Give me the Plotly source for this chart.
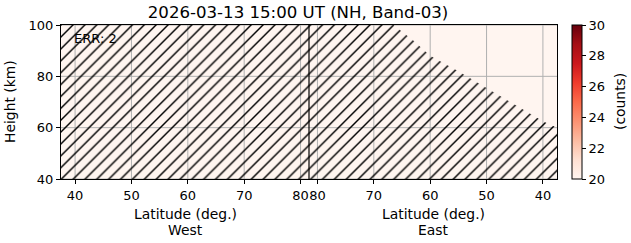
import plotly.graph_objects as go

# ---------------- data ----------------
title_text = "2026-03-13 15:00 UT (NH, Band-03)"
err_count = 2

lat_min = 37.5          # outer edge of both panels (deg)
lat_max = 81.5          # inner edge (where the two panels meet)
height_range = [40, 100]

lat_ticks = [40, 50, 60, 70, 80]
height_ticks = [40, 60, 80, 100]
cbar_ticks = [20, 22, 24, 26, 28, 30]
cmin, cmax = 20, 30

# heatmap grid (all read as the lowest colour level)
grid_lats = [37.5, 42.5, 47.5, 52.5, 57.5, 62.5, 67.5, 72.5, 77.5, 81.5]
grid_heights = [40, 50, 60, 70, 80, 90, 100]
counts_west = [
    [20, 20, 20, 20, 20, 20, 20, 20, 20, 20],
    [20, 20, 20, 20, 20, 20, 20, 20, 20, 20],
    [20, 20, 20, 20, 20, 20, 20, 20, 20, 20],
    [20, 20, 20, 20, 20, 20, 20, 20, 20, 20],
    [20, 20, 20, 20, 20, 20, 20, 20, 20, 20],
    [20, 20, 20, 20, 20, 20, 20, 20, 20, 20],
    [20, 20, 20, 20, 20, 20, 20, 20, 20, 20],
]
counts_east = [
    [20, 20, 20, 20, 20, 20, 20, 20, 20, 20],
    [20, 20, 20, 20, 20, 20, 20, 20, 20, 20],
    [20, 20, 20, 20, 20, 20, 20, 20, 20, 20],
    [20, 20, 20, 20, 20, 20, 20, 20, 20, 20],
    [20, 20, 20, 20, 20, 20, 20, 20, 20, 20],
    [20, 20, 20, 20, 20, 20, 20, 20, 20, 20],
    [20, 20, 20, 20, 20, 20, 20, 20, 20, 20],
]

# upper limit of the no-data (hatched) region in the East panel
east_mask_lat = [66.5, 63.0, 60.0, 55.0, 50.0, 45.0, 40.0, 37.5]
east_mask_top = [100.0, 94.0, 88.0, 82.0, 75.5, 69.0, 62.5, 60.0]

# ---------------- helpers ----------------
span = lat_max - lat_min


def west_x(lat):
    return lat - lat_min


def east_x(lat):
    return 2 * span - (lat - lat_min)


FONT = "DejaVu Sans"
fig = go.Figure()

# heatmaps
fig.add_trace(go.Heatmap(
    x=[west_x(v) for v in grid_lats], y=grid_heights, z=counts_west,
    colorscale="Reds", zmin=cmin, zmax=cmax, showscale=False, hoverinfo="skip"))
fig.add_trace(go.Heatmap(
    x=[east_x(v) for v in grid_lats], y=grid_heights, z=counts_east,
    colorscale="Reds", zmin=cmin, zmax=cmax, hoverinfo="skip",
    colorbar=dict(
        x=(572 - 61) / 496, xanchor="left", xpad=0, ypad=0,
        y=0.5, yanchor="middle", len=1, lenmode="fraction", thickness=10,
        outlinecolor="black", outlinewidth=1,
        ticks="outside", ticklen=4, tickwidth=1, tickcolor="black",
        tickvals=cbar_ticks, tickfont=dict(family=FONT, size=13, color="black"),
    )))

tickvals = [west_x(v) for v in lat_ticks] + [east_x(v) for v in lat_ticks]
ticktext = [str(v) for v in lat_ticks] * 2

# grid lines (drawn as traces so they sit between the colour field and the hatching)
for tv in tickvals:
    fig.add_trace(go.Scatter(x=[tv, tv], y=height_range, mode="lines",
                             line=dict(color="#b0b0b0", width=1),
                             hoverinfo="skip", showlegend=False))
for hv in height_ticks:
    fig.add_trace(go.Scatter(x=[0, 2 * span], y=[hv, hv], mode="lines",
                             line=dict(color="#b0b0b0", width=1),
                             hoverinfo="skip", showlegend=False))

# hatched no-data region
poly_x = [west_x(lat_min), west_x(lat_min)]
poly_y = [height_range[0], height_range[1]]
for la, h in zip(east_mask_lat, east_mask_top):
    poly_x.append(east_x(la))
    poly_y.append(h)
poly_x += [east_x(lat_min), west_x(lat_min)]
poly_y += [height_range[0], height_range[0]]
fig.add_trace(go.Scatter(
    x=poly_x, y=poly_y, mode="lines", fill="toself",
    line=dict(width=0, color="rgba(0,0,0,0)"),
    fillcolor="rgba(0,0,0,0)",
    fillpattern=dict(shape="/", size=8.4, solidity=0.17, fgcolor="black",
                     fgopacity=1, bgcolor="rgba(0,0,0,0)", fillmode="overlay"),
    hoverinfo="skip", showlegend=False))

shapes = [dict(type="line", xref="x", yref="y domain", x0=span, x1=span,
               y0=0, y1=1, line=dict(color="black", width=1.2), layer="above")]

annotations = [
    dict(text=f"ERR: {err_count}", xref="paper", yref="paper", x=10.5 / 496, y=(179 - 38) / 154,
         xanchor="left", yanchor="middle", showarrow=False,
         font=dict(family=FONT, size=13, color="black")),
    dict(text="Height (km)", xref="paper", yref="paper", x=(10 - 61) / 496, y=0.5,
         xanchor="center", yanchor="middle", textangle=-90, showarrow=False,
         font=dict(family=FONT, size=13.9, color="black")),
    dict(text="(counts)", xref="paper", yref="paper", x=(620 - 61) / 496, y=0.5,
         xanchor="center", yanchor="middle", textangle=-90, showarrow=False,
         font=dict(family=FONT, size=13.9, color="black")),
]
for cx, side in [(span / 2, "West"), (span * 1.5, "East")]:
    annotations.append(dict(text="Latitude (deg.)", xref="x", yref="paper", x=cx,
                            y=(179 - 214) / 154, xanchor="center", yanchor="middle",
                            showarrow=False, font=dict(family=FONT, size=13.9, color="black")))
    annotations.append(dict(text=side, xref="x", yref="paper", x=cx,
                            y=(179 - 230) / 154, xanchor="center", yanchor="middle",
                            showarrow=False, font=dict(family=FONT, size=13.9, color="black")))

fig.update_layout(
    width=631, height=243,
    margin=dict(l=61, r=74, t=25, b=64, pad=0, autoexpand=False),
    paper_bgcolor="white", plot_bgcolor="white",
    title=dict(text=title_text, x=(298 - 61) / 496, xref="paper", xanchor="center",
               y=1 - 12 / 243, yref="container", yanchor="middle",
               font=dict(family=FONT, size=16.6, color="black")),
    xaxis=dict(range=[0, 2 * span], tickvals=tickvals, ticktext=ticktext,
               showgrid=False, zeroline=False, showline=True, mirror=True,
               linecolor="black", linewidth=1, ticks="outside", ticklen=4,
               tickcolor="black", tickfont=dict(family=FONT, size=13, color="black")),
    yaxis=dict(range=height_range, tickvals=height_ticks,
               showgrid=False, zeroline=False, showline=True, mirror=True,
               linecolor="black", linewidth=1, ticks="outside", ticklen=4,
               tickcolor="black", tickfont=dict(family=FONT, size=13, color="black")),
    shapes=shapes, annotations=annotations, showlegend=False,
)

fig.write_html("out.html")
